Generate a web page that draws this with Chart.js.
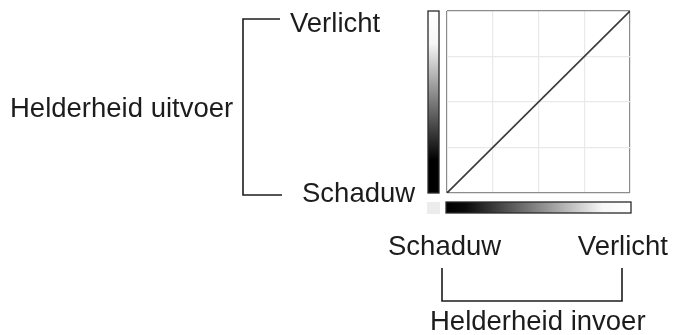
<!DOCTYPE html>
<html>
<head>
<meta charset="utf-8">
<script src="https://cdn.jsdelivr.net/npm/chart.js@4/dist/chart.umd.min.js"></script>
<style>
  html, body { margin: 0; padding: 0; background: #fff; }
  #wrap { width: 675px; height: 335px; }
</style>
</head>
<body>
<div id="wrap"><canvas id="curve" width="675" height="335"></canvas></div>
<script>
// tone curve: input -> output brightness (linear, no correction)
var inputLevels  = [0, 255];
var outputLevels = [0, 255];
var gridStep = 63.75;

// labels
var outputTitle = 'Helderheid uitvoer';
var inputTitle  = 'Helderheid invoer';
var highLabel   = 'Verlicht';
var lowLabel    = 'Schaduw';

var points = inputLevels.map(function (v, i) { return { x: v, y: outputLevels[i] }; });

var FONT = '27.5px "Liberation Sans", Arial, sans-serif';
var INK = '#1c1c1c';

function gridColor(ctx) {
  var last = ctx.chart.scales[ctx.scale.id].ticks.length - 1;
  return (ctx.index === 0 || ctx.index === last) ? '#8c8c8c' : '#e9e9e9';
}

var decorations = {
  id: 'decorations',
  beforeDraw: function (chart) {
    var c = chart.ctx, a = chart.chartArea;
    c.save();

    // output gradient bar (left of graph)
    var g1 = c.createLinearGradient(0, a.top, 0, a.bottom);
    g1.addColorStop(0, '#ffffff');
    g1.addColorStop(0.18, '#f6f6f6');
    g1.addColorStop(0.82, '#000000');
    g1.addColorStop(1, '#000000');
    c.fillStyle = g1;
    c.fillRect(a.left - 19, a.top, 11, a.bottom - a.top);
    c.strokeStyle = '#2a2a2a';
    c.lineWidth = 1.3;
    c.strokeRect(a.left - 19, a.top, 11, a.bottom - a.top);

    // input gradient bar (below graph)
    var g2 = c.createLinearGradient(a.left, 0, a.right, 0);
    g2.addColorStop(0, '#000000');
    g2.addColorStop(0.1, '#0a0a0a');
    g2.addColorStop(0.85, '#f6f6f6');
    g2.addColorStop(1, '#ffffff');
    c.fillStyle = g2;
    c.fillRect(a.left - 1, a.bottom + 9, a.right - a.left + 2, 11);
    c.strokeRect(a.left - 1, a.bottom + 9, a.right - a.left + 2, 11);

    // corner square
    c.fillStyle = '#ececec';
    c.fillRect(a.left - 20, a.bottom + 9, 13, 12);
    c.restore();
  },
  afterDraw: function (chart) {
    var c = chart.ctx, a = chart.chartArea;
    c.save();
    c.strokeStyle = INK;
    c.lineWidth = 1.6;

    // left bracket (output)
    var bx = a.left - 204;
    c.beginPath();
    c.moveTo(a.left - 167, a.top + 8);
    c.lineTo(bx, a.top + 8);
    c.lineTo(bx, a.bottom + 2);
    c.lineTo(a.left - 165, a.bottom + 2);
    c.stroke();

    // bottom bracket (input)
    var by = a.bottom + 108;
    c.beginPath();
    c.moveTo(a.left - 5, a.bottom + 75);
    c.lineTo(a.left - 5, by);
    c.lineTo(a.right - 8, by);
    c.lineTo(a.right - 8, a.bottom + 75);
    c.stroke();

    c.fillStyle = INK;
    c.font = FONT;
    c.textBaseline = 'alphabetic';
    c.textAlign = 'left';
    c.fillText(highLabel, a.left - 157, a.top + 21);
    c.fillText(lowLabel, a.left - 145, a.bottom + 9);
    c.fillText(outputTitle, 10, 117);
    c.fillText(lowLabel, a.left - 59, a.bottom + 62);
    c.textAlign = 'right';
    c.fillText(highLabel, 668, a.bottom + 62);
    c.textAlign = 'left';
    c.fillText(inputTitle, a.left - 17, a.bottom + 137);
    c.restore();
  }
};

new Chart(document.getElementById('curve').getContext('2d'), {
  type: 'scatter',
  data: {
    datasets: [{
      data: points,
      showLine: true,
      borderColor: '#3a3a3a',
      borderWidth: 1.6,
      pointRadius: 2,
      pointStyle: 'rect',
      pointBackgroundColor: '#333',
      pointBorderWidth: 0
    }]
  },
  options: {
    responsive: false,
    animation: false,
    layout: { padding: { left: 447, right: 45, top: 11, bottom: 142 } },
    plugins: { legend: { display: false }, tooltip: { enabled: false } },
    scales: {
      x: {
        type: 'linear', min: 0, max: 255,
        ticks: { display: false, stepSize: gridStep },
        grid: { color: gridColor, lineWidth: 1.2, drawTicks: false },
        border: { display: false }
      },
      y: {
        type: 'linear', min: 0, max: 255,
        ticks: { display: false, stepSize: gridStep },
        grid: { color: gridColor, lineWidth: 1.2, drawTicks: false },
        border: { display: false }
      }
    }
  },
  plugins: [decorations]
});
</script>
</body>
</html>
